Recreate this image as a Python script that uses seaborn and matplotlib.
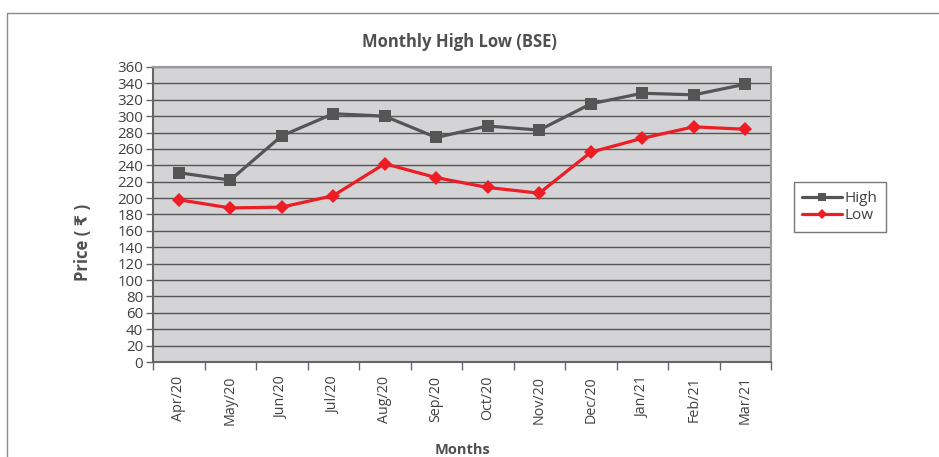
import matplotlib
matplotlib.use("Agg")
import matplotlib.pyplot as plt
from matplotlib.patches import Rectangle
from matplotlib.ticker import MultipleLocator, FixedLocator
import seaborn as sns
import pandas as pd

months = ["Apr/20", "May/20", "Jun/20", "Jul/20", "Aug/20", "Sep/20",
          "Oct/20", "Nov/20", "Dec/20", "Jan/21", "Feb/21", "Mar/21"]
high = [231, 222, 276, 303, 300, 274, 288, 283, 315, 328, 326, 339]
low = [198, 188, 189, 203, 242, 225, 213, 206, 256, 273, 287, 284]
series_names = ["High", "Low"]

sns.set_theme(style="white")
plt.rcParams["font.family"] = ["Open Sans", "DejaVu Sans"]

df = pd.DataFrame({"Month": months * 2,
                   "Price": high + low,
                   "Series": [series_names[0]] * len(months) + [series_names[1]] * len(months)})

fig = plt.figure(figsize=(9.39, 4.57), dpi=100)
ax = fig.add_axes([153 / 939, 1 - 362 / 457, 618 / 939, 295 / 457])

# outer chart border (left & top visible)
fig.patches.append(Rectangle((7 / 939, -0.1), 1.1, 1 - 13 / 457 + 0.1,
                             transform=fig.transFigure, fill=False,
                             edgecolor="#8a8a8a", linewidth=1.0))

sns.lineplot(data=df, x="Month", y="Price", hue="Series", style="Series",
             markers={"High": "s", "Low": "D"}, dashes=False,
             palette={"High": "#555555", "Low": "#ee1c24"},
             linewidth=2.3, markersize=8, markeredgewidth=0, ax=ax, sort=False)
for line in ax.get_lines():
    if line.get_marker() == "D":
        line.set_markersize(7)

ax.set_facecolor("#d4d4d6")
ax.set_xlim(-0.5, len(months) - 0.5)
ax.set_ylim(0, 360)
ax.yaxis.set_major_locator(MultipleLocator(20))
ax.grid(axis="y", color="#555555", linewidth=1.0)
ax.grid(axis="x", visible=False)
ax.set_axisbelow(True)

for side in ["left", "bottom"]:
    ax.spines[side].set_color("#666666")
    ax.spines[side].set_linewidth(1.5)
for side in ["right", "top"]:
    ax.spines[side].set_color("#9a9a9a")
    ax.spines[side].set_linewidth(1.5)

ax.set_xticks(range(len(months)))
ax.set_xticklabels(months, rotation=90, fontsize=10.3, color="#404040")
ax.tick_params(axis="x", which="major", length=0, pad=10)
ax.xaxis.set_minor_locator(FixedLocator([i - 0.5 for i in range(len(months) + 1)]))
ax.tick_params(axis="x", which="minor", length=6, width=1, color="#666666", bottom=True)
ax.tick_params(axis="y", length=5, width=1, color="#666666", labelsize=10.8,
               labelcolor="#404040", left=True, pad=2)

ax.set_xlabel("Months", fontsize=10.5, fontweight="bold", color="#505050")
ax.set_ylabel("Price ( ₹ )", fontsize=12, fontweight="bold", color="#505050")
ax.xaxis.set_label_coords(0.5, -0.275)
ax.yaxis.set_label_coords(-0.099, 0.405)

fig.text(459 / 939, 1 - 42 / 457, "Monthly High Low (BSE)", ha="center", va="center",
         fontsize=12, fontweight="bold", color="#505050")

leg = ax.legend(loc="center left", bbox_to_anchor=(786 / 939, 1 - 207 / 457),
                bbox_transform=fig.transFigure, frameon=True, fancybox=False,
                fontsize=11, handlelength=2.6, handletextpad=0.2,
                borderpad=0.55, labelspacing=0.15, markerscale=0.8)
leg.get_frame().set_edgecolor("#555555")
leg.get_frame().set_linewidth(1.0)
for t in leg.get_texts():
    t.set_color("#404040")

fig.savefig("out.png", dpi=100, facecolor="white")
